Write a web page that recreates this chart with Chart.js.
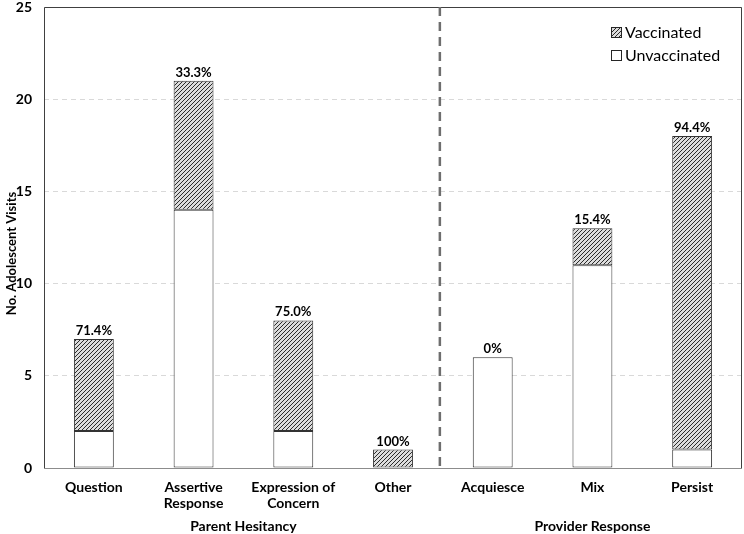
<!DOCTYPE html>
<html>
<head>
<meta charset="utf-8">
<script src="https://cdn.jsdelivr.net/npm/chart.js@4"></script>
<style>
  html, body { margin: 0; padding: 0; background: #fff; }
  #wrap { width: 744px; height: 534px; }
</style>
</head>
<body>
<div id="wrap"><canvas id="chart" width="744" height="534"></canvas></div>
<script>
// ---- data ----
var categories = [['Question'], ['Assertive', 'Response'], ['Expression of', 'Concern'], ['Other'], ['Acquiesce'], ['Mix'], ['Persist']];
var unvaccinated = [2, 14, 2, 0, 6, 11, 1];
var vaccinated = [5, 7, 6, 1, 0, 2, 17];
var pctLabels = ['71.4%', '33.3%', '75.0%', '100%', '0%', '15.4%', '94.4%'];
var yTicks = [0, 5, 10, 15, 20, 25];
var groupLabels = ['Parent Hesitancy', 'Provider Response'];
var groupFrom = [0, 4];
var groupTo = [3, 6];
var yTitle = 'No. Adolescent Visits';

var FONT = 'Lato, "Open Sans", sans-serif';

// diagonal hatch used for the vaccinated part
function makeHatch() {
  var c = document.createElement('canvas');
  c.width = 4; c.height = 4;
  var g = c.getContext('2d');
  g.fillStyle = '#dcdcdc';
  g.fillRect(0, 0, 4, 4);
  g.strokeStyle = '#2a2a2a';
  g.lineWidth = 1;
  g.beginPath();
  g.moveTo(0, 4); g.lineTo(4, 0);
  g.moveTo(-1, 1); g.lineTo(1, -1);
  g.moveTo(3, 5); g.lineTo(5, 3);
  g.stroke();
  return g.createPattern(c, 'repeat');
}
var hatch = makeHatch();

var extras = {
  id: 'extras',
  afterDatasetsDraw: function (chart) {
    var ctx = chart.ctx, area = chart.chartArea;
    var xs = chart.scales.x, ys = chart.scales.y;
    ctx.save();

    // frame around the plot
    ctx.strokeStyle = '#404040';
    ctx.lineWidth = 1;
    ctx.beginPath();
    ctx.moveTo(area.left + 0.5, area.bottom);
    ctx.lineTo(area.left + 0.5, area.top + 0.5);
    ctx.lineTo(area.right - 0.5, area.top + 0.5);
    ctx.lineTo(area.right - 0.5, area.bottom);
    ctx.stroke();
    ctx.strokeStyle = '#8c8c8c';
    ctx.beginPath();
    ctx.moveTo(area.left, area.bottom + 0.5);
    ctx.lineTo(area.right, area.bottom + 0.5);
    ctx.stroke();

    // percentage labels above each stack
    ctx.fillStyle = '#000';
    ctx.font = 'bold 13px ' + FONT;
    ctx.textAlign = 'center';
    ctx.textBaseline = 'alphabetic';
    pctLabels.forEach(function (t, i) {
      var y = ys.getPixelForValue(unvaccinated[i] + vaccinated[i]);
      ctx.fillText(t, xs.getPixelForValue(i), y - 4);
    });

    // divider between the two groups
    var dx = (xs.getPixelForValue(3) + xs.getPixelForValue(4)) / 2 - 3;
    ctx.strokeStyle = '#6e6e6e';
    ctx.lineWidth = 2.5;
    ctx.setLineDash([9, 6]);
    ctx.beginPath();
    ctx.moveTo(dx, area.top);
    ctx.lineTo(dx, area.bottom + 3);
    ctx.stroke();
    ctx.setLineDash([]);

    // group labels
    ctx.font = 'bold 14px ' + FONT;
    ctx.textBaseline = 'middle';
    groupLabels.forEach(function (t, i) {
      var cx = (xs.getPixelForValue(groupFrom[i]) + xs.getPixelForValue(groupTo[i])) / 2;
      ctx.fillText(t, cx, area.bottom + 58);
    });

    // y axis title (sits a little below the middle in the reference)
    ctx.save();
    ctx.translate(12, (area.top + area.bottom) / 2 + 16);
    ctx.rotate(-Math.PI / 2);
    ctx.font = 'bold 13px ' + FONT;
    ctx.fillText(yTitle, 0, 0);
    ctx.restore();

    // legend (vaccinated first)
    var items = [chart.data.datasets[1], chart.data.datasets[0]];
    ctx.font = '16px ' + FONT;
    ctx.textAlign = 'left';
    items.forEach(function (ds, i) {
      var ly = area.top + 25 + i * 23;
      var lx = area.right - 131;
      ctx.fillStyle = ds.backgroundColor;
      ctx.fillRect(lx, ly - 5, 11, 11);
      ctx.strokeStyle = '#262626';
      ctx.lineWidth = 1;
      ctx.strokeRect(lx + 0.5, ly - 4.5, 10, 10);
      ctx.fillStyle = '#000';
      ctx.fillText(ds.label, lx + 14, ly + 1);
    });
    ctx.restore();
  }
};

new Chart(document.getElementById('chart').getContext('2d'), {
  type: 'bar',
  data: {
    labels: categories,
    datasets: [{
      label: 'Unvaccinated',
      data: unvaccinated,
      backgroundColor: '#ffffff',
      borderColor: '#333333',
      borderWidth: 1,
      borderSkipped: false,
      barPercentage: 0.4,
      categoryPercentage: 1
    }, {
      label: 'Vaccinated',
      data: vaccinated,
      backgroundColor: hatch,
      borderColor: '#333333',
      borderWidth: 1,
      borderSkipped: false,
      barPercentage: 0.4,
      categoryPercentage: 1
    }]
  },
  options: {
    responsive: false,
    animation: false,
    layout: { padding: { top: 7, right: 2, left: 0, bottom: 0 } },
    plugins: { legend: { display: false }, tooltip: { enabled: false } },
    scales: {
      x: {
        stacked: true,
        grid: { display: false, drawTicks: false },
        border: { display: false },
        ticks: { color: '#000', font: { family: FONT, size: 14, weight: 'bold', lineHeight: 1.15 }, padding: 11, maxRotation: 0, autoSkip: false },
        afterFit: function (s) { s.height = 66; s.paddingLeft = 0; s.paddingRight = 0; }
      },
      y: {
        stacked: true,
        min: 0,
        max: 25,
        afterBuildTicks: function (s) { s.ticks = yTicks.map(function (v) { return { value: v }; }); },
        grid: { color: '#d9d9d9', drawTicks: false },
        border: { display: false, dash: [5, 4] },
        ticks: { color: '#000', font: { family: FONT, size: 14, weight: 'bold' }, padding: 12 },
        afterFit: function (s) { s.width = 44; s.paddingTop = 0; s.paddingBottom = 0; }
      }
    }
  },
  plugins: [extras]
});
</script>
</body>
</html>
